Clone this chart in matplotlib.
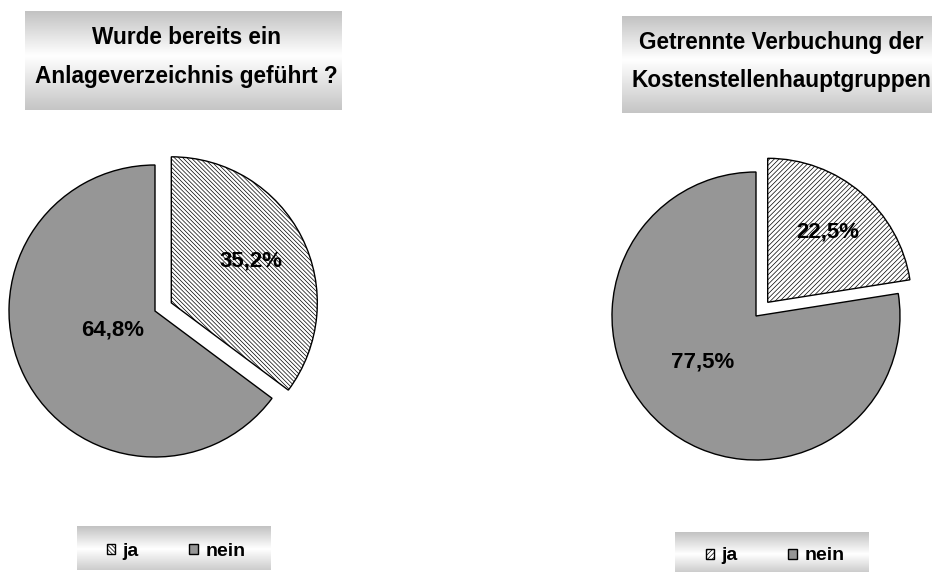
import numpy as np
import matplotlib
matplotlib.use("Agg")
import matplotlib.pyplot as plt

plt.rcParams['font.family'] = ['Liberation Sans', 'DejaVu Sans']
plt.rcParams['hatch.linewidth'] = 0.5

# Data
categories = ["ja", "nein"]
left_title = "Wurde bereits ein\nAnlageverzeichnis geführt ?"
left_values = [35.2, 64.8]
left_labels = ["35,2%", "64,8%"]
right_title = "Getrennte Verbuchung der\nKostenstellenhauptgruppen"
right_values = [22.5, 77.5]
right_labels = ["22,5%", "77,5%"]

W, H = 932, 576
fig = plt.figure(figsize=(W / 100, H / 100), dpi=100)
fig.patch.set_facecolor("white")

# Background layer in pixel coordinates for the shaded boxes and titles
bg = fig.add_axes([0, 0, 1, 1])
bg.set_xlim(0, W)
bg.set_ylim(H, 0)
bg.axis("off")


def shaded_box(ax, x0, x1, y0, y1, top=0.76, mid=1.0, bottom=0.77, peak=0.45):
    t = np.linspace(0, 1, 200)
    v = np.where(t < peak, top + (mid - top) * t / peak,
                 mid + (bottom - mid) * (t - peak) / (1 - peak))
    img = np.repeat(v[:, None], 2, axis=1)
    ax.imshow(img, extent=(x0, x1, y1, y0), cmap="gray", vmin=0, vmax=1,
              aspect="auto", interpolation="bilinear", zorder=1)


# Title boxes
shaded_box(bg, 25, 342, 11, 110)
shaded_box(bg, 622, 945, 16, 113)
# Legend boxes
shaded_box(bg, 77, 271, 526, 570, top=0.76, bottom=0.8, peak=0.52)
shaded_box(bg, 675, 869, 532, 572, top=0.76, bottom=0.8, peak=0.55)

for line, y in zip(left_title.split("\n"), (37, 77)):
    bg.text(186, y, line, ha="center", va="center", fontsize=16.3,
            fontweight="bold", color="black", zorder=3)
for line, y in zip(right_title.split("\n"), (42, 80)):
    bg.text(781, y, line, ha="center", va="center", fontsize=16.3,
            fontweight="bold", color="black", zorder=3)
bg.set_xlim(0, W)
bg.set_ylim(H, 0)


def pie_axes(cx, cy, r, span=1.4):
    size = 2 * span * r
    ax = fig.add_axes([(cx - size / 2) / W, (H - cy - size / 2) / H,
                       size / W, size / H])
    ax.patch.set_alpha(0)
    return ax


def draw_pie(ax, values, labels, hatch, label_pos):
    wedges, _ = ax.pie(values, startangle=90, counterclock=False,
                       explode=[0.125, 0], radius=1.0,
                       colors=["white", "#969696"],
                       wedgeprops=dict(edgecolor="black", linewidth=1.0))
    wedges[0].set_hatch(hatch)
    for txt, (x, y) in zip(labels, label_pos):
        ax.text(x, y, txt, ha="center", va="center", fontsize=16,
                fontweight="bold", color="black")
    ax.set_xlim(-1.4, 1.4)
    ax.set_ylim(-1.4, 1.4)
    ax.set_aspect("auto")
    ax.axis("off")
    return wedges


axl = pie_axes(155, 311, 146)
wl = draw_pie(axl, left_values, left_labels, "\\" * 8,
              [(0.66, 0.34), (-0.29, -0.13)])
axr = pie_axes(756, 316, 144)
wr = draw_pie(axr, right_values, right_labels, "/" * 7,
              [(0.50, 0.58), (-0.37, -0.32)])

legend_kw = dict(loc="center", ncol=2, frameon=False,
                 handlelength=0.42, handleheight=0.42, handletextpad=0.4,
                 columnspacing=2.6, borderpad=0, prop=dict(weight="bold", size=14))
fig.legend(wl, categories, bbox_to_anchor=(176 / W, 1 - 551 / H), **legend_kw)
fig.legend(wr, categories, bbox_to_anchor=(775 / W, 1 - 556 / H), **legend_kw)

fig.savefig("out.png", dpi=100, facecolor="white")
